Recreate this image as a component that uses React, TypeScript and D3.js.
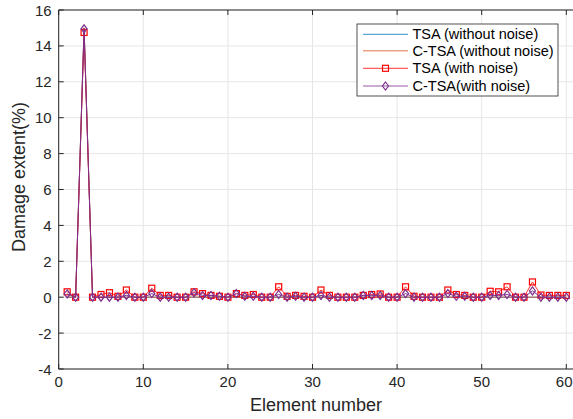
import React from "react";
import * as d3 from "d3";

// Element indices 1..60
const elements: number[] = Array.from({ length: 60 }, (_, i) => i + 1);

// Damage extent (%) per element
const tsaClean: number[] = [
  0, 0, 15, 0, 0, 0, 0, 0, 0, 0,
  0, 0, 0, 0, 0, 0, 0, 0, 0, 0,
  0, 0, 0, 0, 0, 0, 0, 0, 0, 0,
  0, 0, 0, 0, 0, 0, 0, 0, 0, 0,
  0, 0, 0, 0, 0, 0, 0, 0, 0, 0,
  0, 0, 0, 0, 0, 0, 0, 0, 0, 0,
];
const ctsaClean: number[] = [
  0, 0, 15, 0, 0, 0, 0, 0, 0, 0,
  0, 0, 0, 0, 0, 0, 0, 0, 0, 0,
  0, 0, 0, 0, 0, 0, 0, 0, 0, 0,
  0, 0, 0, 0, 0, 0, 0, 0, 0, 0,
  0, 0, 0, 0, 0, 0, 0, 0, 0, 0,
  0, 0, 0, 0, 0, 0, 0, 0, 0, 0,
];
const tsaNoisy: number[] = [
  0.3, 0, 14.75, 0, 0.15, 0.25, 0.05, 0.4, 0, 0,
  0.5, 0.1, 0.1, 0, 0, 0.3, 0.2, 0.1, 0.05, 0,
  0.2, 0.1, 0.15, 0, 0, 0.58, 0.05, 0.1, 0.05, 0,
  0.4, 0.1, 0, 0, 0, 0.1, 0.15, 0.18, 0, 0,
  0.58, 0.05, 0, 0, 0, 0.4, 0.15, 0.1, 0, 0,
  0.33, 0.3, 0.58, 0, 0, 0.85, 0.12, 0.1, 0.1, 0.1,
];
const ctsaNoisy: number[] = [
  0.18, 0, 14.95, 0, 0, 0, 0, 0.1, 0, 0,
  0.2, 0, 0, 0, 0, 0.25, 0.1, 0.1, 0.05, 0,
  0.2, 0.05, 0.05, 0, 0, 0.15, 0, 0.05, 0, 0,
  0.1, 0, 0, 0, 0, 0.1, 0.1, 0.1, 0, 0,
  0.2, 0, 0, 0, 0, 0.2, 0.05, 0.05, 0, 0,
  0.1, 0.1, 0.15, 0, 0, 0.35, 0, 0, 0, 0,
];

const xTicks: number[] = [0, 10, 20, 30, 40, 50, 60];
const yTicks: number[] = [-4, -2, 0, 2, 4, 6, 8, 10, 12, 14, 16];

const legendLabels: string[] = [
  "TSA (without noise)",
  "C-TSA (without noise)",
  "TSA (with noise)",
  "C-TSA(with noise)",
];

const W = 573;
const H = 419;
const left = 58.7;
const top = 10;
const bottom = 369;
const xMax = 61;
const font = "'Liberation Sans', Arial, sans-serif";
const axisColor = "#262626";

const COLORS = {
  blue: "#0072BD",
  orange: "#D95319",
  red: "#FF0000",
  purple: "#7E2F8E",
};

export default function App() {
  const x = d3.scaleLinear().domain([0, xMax]).range([left, left + xMax * 8.46]);
  const y = d3.scaleLinear().domain([-4, 16]).range([bottom, top]);
  const right = x(xMax);

  const line = (vals: number[]) =>
    d3
      .line<number>()
      .x((_, i) => x(elements[i]))
      .y((v) => y(v))(vals) || "";

  const diamond = (cx: number, cy: number, r: number) =>
    `M${cx},${cy - r}L${cx + r * 0.75},${cy}L${cx},${cy + r}L${cx - r * 0.75},${cy}Z`;

  const legX = 357;
  const legY = 24;
  const legW = 201;
  const legH = 72;
  const rowY = [34.3, 50.8, 68.3, 86];
  const lineX0 = 363;
  const lineX1 = 408;
  const lineMid = (lineX0 + lineX1) / 2;

  return (
    <svg
      width={W}
      height={H}
      style={{ position: "fixed", left: 0, top: 0, background: "#fff" }}
      fontFamily={font}
    >
      <rect x={0} y={0} width={W} height={H} fill="#fff" />
      <defs>
        <clipPath id="plotArea">
          <rect x={left} y={top} width={right - left} height={bottom - top} />
        </clipPath>
      </defs>

      {/* grid */}
      <g stroke="#e6e6e6" strokeWidth={1}>
        {xTicks.map((t) => (
          <line key={`gx${t}`} x1={x(t)} x2={x(t)} y1={top} y2={bottom} />
        ))}
        {yTicks.map((t) => (
          <line key={`gy${t}`} x1={left} x2={right} y1={y(t)} y2={y(t)} />
        ))}
      </g>

      {/* series */}
      <g clipPath="url(#plotArea)" fill="none">
        <path d={line(tsaClean)} stroke={COLORS.blue} strokeWidth={0.8} />
        <path d={line(ctsaClean)} stroke={COLORS.orange} strokeWidth={0.8} />
        <path d={line(tsaNoisy)} stroke={COLORS.red} strokeWidth={0.8} />
        {tsaNoisy.map((v, i) => (
          <rect
            key={`sq${i}`}
            x={x(elements[i]) - 3}
            y={y(v) - 3}
            width={6}
            height={6}
            stroke={COLORS.red}
            strokeWidth={1.2}
          />
        ))}
        <path d={line(ctsaNoisy)} stroke={COLORS.purple} strokeWidth={1} />
        {ctsaNoisy.map((v, i) => (
          <path
            key={`dm${i}`}
            d={diamond(x(elements[i]), y(v), 4)}
            stroke={COLORS.purple}
            strokeWidth={1.2}
          />
        ))}
      </g>

      {/* axes box with inward ticks */}
      <g stroke={axisColor} strokeWidth={1} fill="none">
        <line x1={left} x2={left} y1={top} y2={bottom} />
        <line x1={left} x2={W + 5} y1={bottom} y2={bottom} />
        <line x1={left} x2={W + 5} y1={top} y2={top} />
        {xTicks.map((t) => (
          <g key={`tx${t}`}>
            <line x1={x(t)} x2={x(t)} y1={bottom} y2={bottom - 5} />
            <line x1={x(t)} x2={x(t)} y1={top} y2={top + 5} />
          </g>
        ))}
        {yTicks.map((t) => (
          <line key={`ty${t}`} x1={left} x2={left + 5} y1={y(t)} y2={y(t)} />
        ))}
      </g>

      {/* tick labels */}
      <g fill={axisColor} fontSize={15}>
        {xTicks.map((t) => {
          const px = x(t);
          const nearEdge = px + 9 > W;
          return (
            <text
              key={`lx${t}`}
              x={nearEdge ? W - 0.5 : px}
              y={387}
              textAnchor={nearEdge ? "end" : "middle"}
            >
              {String(t)}
            </text>
          );
        })}
        {yTicks.map((t) => (
          <text
            key={`ly${t}`}
            x={left - 7}
            y={y(t)}
            textAnchor="end"
            dominantBaseline="central"
          >
            {t < 0 ? `-${Math.abs(t)}` : String(t)}
          </text>
        ))}
      </g>

      {/* axis titles */}
      <text x={316} y={411} textAnchor="middle" fontSize={18} fill={axisColor}>
        Element number
      </text>
      <text
        transform={`translate(25,177) rotate(-90)`}
        textAnchor="middle"
        fontSize={18}
        fill={axisColor}
      >
        Damage extent(%)
      </text>

      {/* legend */}
      <rect
        x={legX}
        y={legY}
        width={legW}
        height={legH}
        fill="#fff"
        stroke={axisColor}
        strokeWidth={0.8}
      />
      {legendLabels.map((lab, i) => {
        const c = [COLORS.blue, COLORS.orange, COLORS.red, COLORS.purple][i];
        const yy = rowY[i];
        return (
          <g key={lab}>
            <line x1={lineX0} x2={lineX1} y1={yy} y2={yy} stroke={c} strokeWidth={0.8} />
            {i === 2 && (
              <rect
                x={lineMid - 3}
                y={yy - 3}
                width={6}
                height={6}
                fill="none"
                stroke={c}
                strokeWidth={1.2}
              />
            )}
            {i === 3 && (
              <path d={diamond(lineMid, yy, 4)} fill="none" stroke={c} strokeWidth={1.2} />
            )}
            <text
              x={412.5}
              y={yy}
              fontSize={14.5}
              dominantBaseline="central"
              fill="#000"
            >
              {lab}
            </text>
          </g>
        );
      })}
    </svg>
  );
}
